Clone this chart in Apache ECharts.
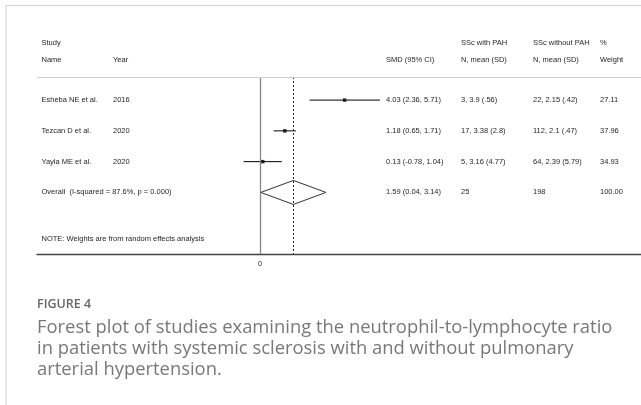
<!DOCTYPE html>
<html>
<head>
<meta charset="utf-8">
<script src="https://cdn.jsdelivr.net/npm/echarts@6/dist/echarts.min.js"></script>
<style>
  html, body { margin: 0; padding: 0; background: #fff; }
  #chart { width: 641px; height: 405px; }
</style>
</head>
<body>
<div id="chart"></div>
<script>
// Study-level data
const studies = ['Esheba NE et al.', 'Tezcan D et al.', 'Yayla ME et al.'];
const years = ['2016', '2020', '2020'];
const smd = [4.03, 1.18, 0.13];
const ciLow = [2.36, 0.65, -0.78];
const ciHigh = [5.71, 1.71, 1.04];
const withPAH = ['3, 3.9 (.56)', '17, 3.38 (2.8)', '5, 3.16 (4.77)'];
const withoutPAH = ['22, 2.15 (.42)', '112, 2.1 (.47)', '64, 2.39 (5.79)'];
const weights = [27.11, 37.96, 34.93];

// Pooled (random effects) estimate
const overallSmd = 1.59;
const overallLow = 0.04;
const overallHigh = 3.14;
const overallNWith = 25;
const overallNWithout = 198;
const overallWeight = 100.00;
const heterogeneity = 'Overall  (I-squared = 87.6%, p = 0.000)';

// Axis ticks shown
const xTicks = [0];

// ---- layout ----
const gridLeft = 37, gridRight = 641, gridTop = 77, gridHeight = 177;
const zeroPx = 260, pxPerUnit = 21;
const col = { name: 41.5, year: 113, smd: 386, withP: 461, withoutP: 533, weight: 600 };
const tableFont = '7.5px "Liberation Sans", Arial, sans-serif';
const tableColor = '#262626';
const diamondHalf = 0.39;
const captionFont = '18.4px "Open Sans", sans-serif';

const fmt = (v) => v.toFixed(2);
const ciText = (e, l, h) => `${fmt(e)} (${fmt(l)}, ${fmt(h)})`;

// Table rows (row index on the y axis -> cell texts)
const rows = studies.map((s, i) => ({
  row: i + 1,
  cells: [s, years[i], ciText(smd[i], ciLow[i], ciHigh[i]), withPAH[i], withoutPAH[i], fmt(weights[i])]
}));
rows.push({
  row: 4,
  cells: [heterogeneity, '', ciText(overallSmd, overallLow, overallHigh), String(overallNWith), String(overallNWithout), fmt(overallWeight)]
});
const colX = [col.name, col.year, col.smd, col.withP, col.withoutP, col.weight];

const chart = echarts.init(document.getElementById('chart'), null, { renderer: 'canvas' });

const txt = (text, x, y, extra) => ({
  type: 'text', x, y, silent: true,
  style: Object.assign({ text, font: tableFont, fill: tableColor, verticalAlign: 'middle' }, extra || {})
});

chart.setOption({
  animation: false,
  backgroundColor: '#fff',
  grid: { left: gridLeft, right: 641 - gridRight, top: gridTop, height: gridHeight, containLabel: false },
  xAxis: {
    type: 'value',
    min: (gridLeft - zeroPx) / pxPerUnit,
    max: (gridRight - zeroPx) / pxPerUnit,
    axisLine: { show: true, lineStyle: { color: '#444', width: 1.4 } },
    axisTick: { show: false },
    splitLine: { show: false },
    axisLabel: { customValues: xTicks, color: '#333', fontSize: 7.5, fontFamily: 'Liberation Sans', margin: 6 }
  },
  yAxis: {
    type: 'value', inverse: true, min: 0.25, max: 6,
    show: false
  },
  series: [
    {
      // confidence interval whiskers
      type: 'custom',
      data: studies.map((s, i) => [i + 1, ciLow[i], ciHigh[i]]),
      renderItem: (params, api) => {
        const r = api.value(0);
        const a = api.coord([api.value(1), r]);
        const b = api.coord([api.value(2), r]);
        return { type: 'line', shape: { x1: a[0], y1: a[1], x2: b[0], y2: b[1] },
                 style: { stroke: '#000', lineWidth: 1 } };
      },
      z: 3
    },
    {
      type: 'scatter',
      data: studies.map((s, i) => [smd[i], i + 1]),
      symbol: 'rect', symbolSize: 3.5,
      itemStyle: { color: '#000' },
      z: 4,
      markLine: {
        silent: true, symbol: 'none', label: { show: false },
        data: [
          { xAxis: 0, lineStyle: { color: '#888', width: 1.3, type: 'solid' } },
          { xAxis: overallSmd, lineStyle: { color: '#222', width: 1, type: [2, 2] } },
          { yAxis: 0.25, lineStyle: { color: '#cfcfcf', width: 1, type: 'solid' } }
        ]
      }
    },
    {
      // pooled estimate diamond
      type: 'custom',
      data: [[4, overallLow, overallSmd, overallHigh]],
      renderItem: (params, api) => {
        const r = api.value(0);
        const l = api.coord([api.value(1), r]);
        const h = api.coord([api.value(3), r]);
        const top = api.coord([api.value(2), r - diamondHalf]);
        const bot = api.coord([api.value(2), r + diamondHalf]);
        return { type: 'polygon', shape: { points: [l, top, h, bot] },
                 style: { fill: 'rgba(255,255,255,0)', stroke: '#333', lineWidth: 1 } };
      },
      z: 5
    },
    {
      // table text
      type: 'custom',
      data: rows.map((r) => [r.row]),
      renderItem: (params, api) => {
        const y = api.coord([0, api.value(0)])[1];
        const cells = rows[params.dataIndex].cells;
        return { type: 'group', children: cells.map((t, k) => txt(t, colX[k], y)) };
      },
      z: 6
    }
  ],
  graphic: [
    { type: 'rect', shape: { x: 6, y: 5.5, width: 700, height: 500 }, style: { fill: 'none', stroke: '#d2d2d2', lineWidth: 1 }, silent: true },
    txt('Study', col.name, 43),
    txt('Name', col.name, 60),
    txt('Year', col.year, 60),
    txt('SMD (95% CI)', col.smd, 60),
    txt('SSc with PAH', col.withP, 43),
    txt('N, mean (SD)', col.withP, 60),
    txt('SSc without PAH', col.withoutP, 43),
    txt('N, mean (SD)', col.withoutP, 60),
    txt('%', col.weight, 43),
    txt('Weight', col.weight, 60),
    txt('NOTE: Weights are from random effects analysis', col.name, 239),
    txt('FIGURE 4', 37, 304, { font: '600 12.5px "Open Sans", sans-serif', fill: '#666' }),
    txt('Forest plot of studies examining the neutrophil-to-lymphocyte ratio', 37, 328, { font: captionFont, fill: '#787878' }),
    txt('in patients with systemic sclerosis with and without pulmonary', 37, 349, { font: captionFont, fill: '#787878' }),
    txt('arterial hypertension.', 37, 370, { font: captionFont, fill: '#787878' })
  ]
});
</script>
</body>
</html>
